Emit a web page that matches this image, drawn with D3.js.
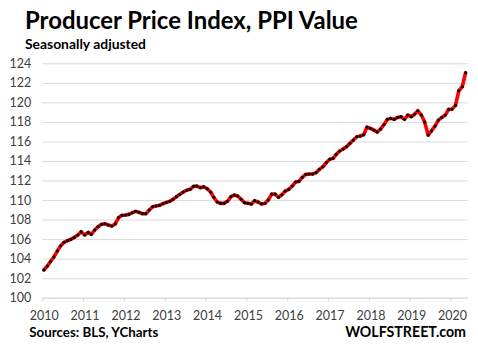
<!DOCTYPE html>
<html>
<head>
<meta charset="utf-8">
<script src="https://cdn.jsdelivr.net/npm/d3@7"></script>
<style>
  body { margin: 0; background: #fff; }
  text { font-family: Lato, "Open Sans", sans-serif; }
</style>
</head>
<body>
<svg id="ppiChart" width="478" height="352"></svg>
<script>
// monthly PPI values, Jan 2010 .. May 2020
const startYear = 2010;
const ppiValues = [
  102.84, 103.24, 103.69, 104.17, 104.78, 105.32, 105.67, 105.84, 105.98, 106.18, 106.42, 106.76,
  106.42, 106.69, 106.49, 106.93, 107.27, 107.51, 107.57, 107.44, 107.34, 107.55, 108.20, 108.43,
  108.46, 108.53, 108.70, 108.84, 108.74, 108.60, 108.60, 108.98, 109.31, 109.39, 109.46, 109.62,
  109.76, 109.87, 110.07, 110.34, 110.58, 110.82, 111.00, 111.10, 111.40, 111.43, 111.26, 111.36,
  111.16, 110.82, 110.28, 109.80, 109.66, 109.66, 109.87, 110.34, 110.51, 110.41, 110.07, 109.73,
  109.66, 109.59, 109.93, 109.80, 109.60, 109.65, 110.00, 110.61, 110.61, 110.28, 110.54, 110.92,
  111.09, 111.43, 111.84, 111.91, 112.32, 112.63, 112.66, 112.66, 112.80, 113.14, 113.41, 113.82,
  114.17, 114.27, 114.68, 115.02, 115.22, 115.46, 115.80, 116.14, 116.48, 116.55, 116.68, 117.47,
  117.34, 117.16, 116.96, 117.27, 117.71, 118.26, 118.36, 118.26, 118.46, 118.53, 118.26, 118.70,
  118.53, 118.80, 119.14, 118.70, 117.98, 116.65, 117.09, 117.57, 118.19, 118.46, 118.70, 119.28,
  119.31, 119.69, 121.19, 121.60, 123.03
];
const yTicks = [100, 102, 104, 106, 108, 110, 112, 114, 116, 118, 120, 122, 124];
const xTickYears = [2010, 2011, 2012, 2013, 2014, 2015, 2016, 2017, 2018, 2019, 2020];

const titleText = "Producer Price Index, PPI Value";
const subtitleText = "Seasonally adjusted";
const sourceText = "Sources: BLS, YCharts";
const brandText = "WOLFSTREET.com";

const data = ppiValues.map((v, i) => ({ date: new Date(startYear, i, 15), value: v }));

const svg = d3.select("#ppiChart");
const plot = { left: 42.3, right: 467.5, top: 63.3, bottom: 297.7 };

const x = d3.scaleTime()
  .domain([new Date(startYear, 0, 1), new Date(2020, 5, 1)])
  .range([plot.left, plot.right]);
const y = d3.scaleLinear()
  .domain([100, 124])
  .range([plot.bottom, plot.top]);

// shrink/grow a text's font so it spans the wanted width
function fitText(sel, width) {
  const fs = parseFloat(sel.style("font-size"));
  const w = sel.node().getComputedTextLength();
  sel.style("font-size", (fs * width / w).toFixed(2) + "px");
  return sel;
}

// gridlines + y labels
const yAxis = svg.append("g")
  .attr("transform", `translate(${plot.left},0)`)
  .call(d3.axisLeft(y).tickValues(yTicks).tickSize(-(plot.right - plot.left)).tickPadding(11));
yAxis.select(".domain").remove();
yAxis.selectAll(".tick line").attr("stroke", "#d9d9d9").attr("stroke-width", 1);
yAxis.selectAll(".tick text")
  .style("font-size", "12.5px")
  .attr("fill", "#404040")
  .attr("font-family", "Lato, sans-serif");

// x axis
const xAxis = svg.append("g")
  .attr("transform", `translate(0,${plot.bottom})`)
  .call(d3.axisBottom(x)
    .tickValues(xTickYears.map(yr => new Date(yr, 0, 1)))
    .tickFormat(d3.timeFormat("%Y"))
    .tickSize(4)
    .tickSizeOuter(0)
    .tickPadding(9));
xAxis.select(".domain").attr("stroke", "#d9d9d9");
xAxis.selectAll(".tick line").attr("stroke", "#d9d9d9");
xAxis.selectAll(".tick text")
  .attr("dx", 1.5)
  .style("font-size", "12.5px")
  .attr("fill", "#404040")
  .attr("font-family", "Lato, sans-serif");

// the line
const line = d3.line()
  .x(d => x(d.date))
  .y(d => y(d.value));

svg.append("path")
  .datum(data)
  .attr("fill", "none")
  .attr("stroke", "#ff0000")
  .attr("stroke-width", 3.6)
  .attr("stroke-linejoin", "round")
  .attr("stroke-linecap", "round")
  .attr("d", line);

svg.append("g")
  .selectAll("circle")
  .data(data)
  .join("circle")
  .attr("cx", d => x(d.date))
  .attr("cy", d => y(d.value))
  .attr("r", 1.6)
  .attr("fill", "#000");

// titles and footer
const title = svg.append("text")
  .attr("x", 25).attr("y", 29.3)
  .style("font-size", "20px").style("font-weight", "bold")
  .attr("fill", "#000")
  .text(titleText);
fitText(title, 333);

const subtitle = svg.append("text")
  .attr("x", 25).attr("y", 49.3)
  .style("font-size", "13.5px").style("font-weight", "bold")
  .attr("fill", "#000")
  .text(subtitleText);
fitText(subtitle, 121);

const source = svg.append("text")
  .attr("x", 29.3).attr("y", 337.3)
  .style("font-size", "13px").style("font-weight", "bold")
  .attr("fill", "#000")
  .text(sourceText);
fitText(source, 129);

const brand = svg.append("text")
  .attr("x", 466).attr("y", 337.3)
  .attr("text-anchor", "end")
  .style("font-size", "14px").style("font-weight", "bold")
  .attr("fill", "#000")
  .text(brandText);
fitText(brand, 121);
</script>
</body>
</html>
